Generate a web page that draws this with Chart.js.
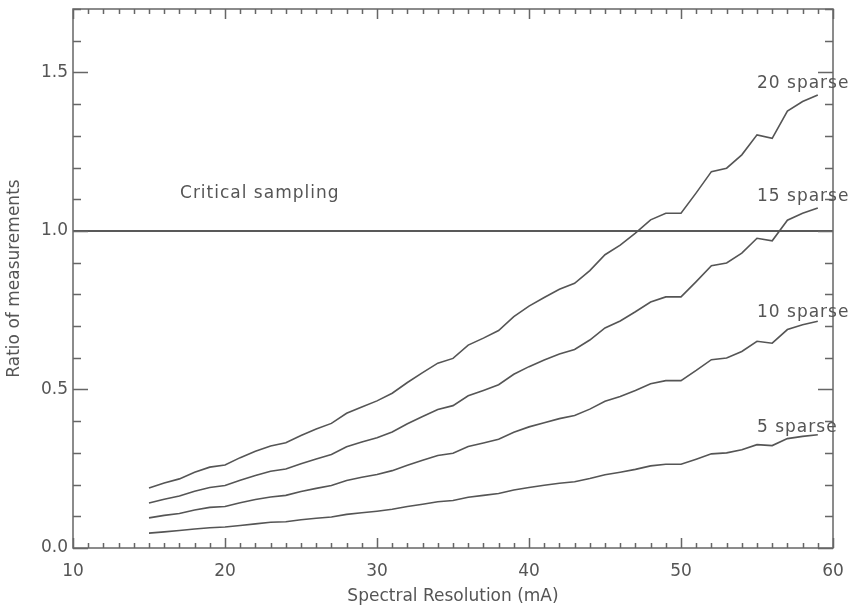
<!DOCTYPE html>
<html>
<head>
<meta charset="utf-8">
<script src="https://cdn.jsdelivr.net/npm/chart.js@4"></script>
<style>
  html, body { margin: 0; padding: 0; background: #fff; }
</style>
</head>
<body>
<canvas id="chart" width="853" height="608"></canvas>
<script>
// Spectral resolution (mA), one point per unit
const resolution = [15, 16, 17, 18, 19, 20, 21, 22, 23, 24, 25, 26, 27, 28, 29,
  30, 31, 32, 33, 34, 35, 36, 37, 38, 39, 40, 41, 42, 43, 44,
  45, 46, 47, 48, 49, 50, 51, 52, 53, 54, 55, 56, 57, 58, 59];

const sparse20 = [0.189, 0.205, 0.218, 0.239, 0.255, 0.262, 0.285, 0.305, 0.322, 0.332,
  0.355, 0.375, 0.393, 0.425, 0.445, 0.464, 0.488, 0.522, 0.553, 0.583,
  0.598, 0.640, 0.662, 0.686, 0.730, 0.763, 0.790, 0.816, 0.835, 0.875,
  0.925, 0.955, 0.993, 1.035, 1.056, 1.056, 1.120, 1.187, 1.198, 1.240,
  1.303, 1.292, 1.378, 1.408, 1.429];

const sparse15 = [0.142, 0.154, 0.164, 0.179, 0.191, 0.197, 0.214, 0.229, 0.242, 0.249,
  0.266, 0.281, 0.295, 0.319, 0.334, 0.348, 0.366, 0.392, 0.415, 0.437,
  0.449, 0.480, 0.497, 0.515, 0.548, 0.572, 0.593, 0.612, 0.626, 0.656,
  0.694, 0.716, 0.745, 0.776, 0.792, 0.792, 0.840, 0.890, 0.899, 0.930,
  0.977, 0.969, 1.034, 1.056, 1.072];

const sparse10 = [0.095, 0.103, 0.109, 0.120, 0.128, 0.131, 0.143, 0.153, 0.161, 0.166,
  0.178, 0.188, 0.197, 0.213, 0.223, 0.232, 0.244, 0.261, 0.277, 0.292,
  0.299, 0.320, 0.331, 0.343, 0.365, 0.382, 0.395, 0.408, 0.418, 0.438,
  0.463, 0.478, 0.497, 0.518, 0.528, 0.528, 0.560, 0.594, 0.599, 0.620,
  0.652, 0.646, 0.689, 0.704, 0.715];

const sparse5 = [0.047, 0.051, 0.055, 0.060, 0.064, 0.066, 0.071, 0.076, 0.081, 0.083,
  0.089, 0.094, 0.098, 0.106, 0.111, 0.116, 0.122, 0.131, 0.138, 0.146,
  0.150, 0.160, 0.166, 0.172, 0.183, 0.191, 0.198, 0.204, 0.209, 0.219,
  0.231, 0.239, 0.248, 0.259, 0.264, 0.264, 0.280, 0.297, 0.300, 0.310,
  0.326, 0.323, 0.345, 0.352, 0.357];

const seriesNames = ['20 sparse', '15 sparse', '10 sparse', '5 sparse'];
const criticalLevel = 1.0;
const criticalName = 'Critical sampling';

const lineColor = '#555';
const textColor = '#555';
const axisColor = '#666';
const fontFamily = '"DejaVu Sans", sans-serif';
const fontSize = 17;

const toPoints = (ys) => ys.map((v, i) => ({ x: resolution[i], y: v }));

// where each curve's name sits, in data units
const nameSpots = [
  { x: 55.0, y: 1.464 },
  { x: 55.0, y: 1.107 },
  { x: 55.0, y: 0.741 },
  { x: 55.0, y: 0.379 },
];

const frame = {
  id: 'frame',
  afterDraw(chart) {
    const { ctx, chartArea: a, scales: { x, y } } = chart;
    ctx.save();
    ctx.strokeStyle = axisColor;
    ctx.lineWidth = 1.5;
    ctx.strokeRect(a.left, a.top, a.right - a.left, a.bottom - a.top);

    ctx.beginPath();
    for (let v = x.min; v <= x.max; v += 1) {
      const px = Math.round(x.getPixelForValue(v)) + 0.5;
      const len = v % 10 === 0 ? 10 : 5;
      ctx.moveTo(px, a.bottom); ctx.lineTo(px, a.bottom - len);
      ctx.moveTo(px, a.top); ctx.lineTo(px, a.top + len);
    }
    for (let i = 0; i <= 17; i++) {
      const py = Math.round(y.getPixelForValue(i / 10)) + 0.5;
      const len = i % 5 === 0 ? 15 : 8;
      ctx.moveTo(a.left, py); ctx.lineTo(a.left + len, py);
      ctx.moveTo(a.right, py); ctx.lineTo(a.right - len, py);
    }
    ctx.stroke();

    ctx.fillStyle = textColor;
    ctx.font = `${fontSize}px ${fontFamily}`;
    ctx.textBaseline = 'middle';
    ctx.textAlign = 'left';
    ctx.letterSpacing = '1px';
    ctx.fillText(criticalName, x.getPixelForValue(17.04), y.getPixelForValue(1.117));
    seriesNames.forEach((name, i) => {
      ctx.fillText(name, x.getPixelForValue(nameSpots[i].x), y.getPixelForValue(nameSpots[i].y));
    });
    ctx.restore();
  },
};

const curves = [sparse20, sparse15, sparse10, sparse5].map((ys, i) => ({
  label: seriesNames[i],
  data: toPoints(ys),
  borderColor: lineColor,
  borderWidth: 1.6,
  pointRadius: 0,
  tension: 0,
  fill: false,
}));

curves.push({
  label: criticalName,
  data: [{ x: 10, y: criticalLevel }, { x: 60, y: criticalLevel }],
  borderColor: '#222',
  borderWidth: 1.5,
  pointRadius: 0,
  fill: false,
});

new Chart(document.getElementById('chart').getContext('2d'), {
  type: 'line',
  data: { datasets: curves },
  plugins: [frame],
  options: {
    responsive: false,
    animation: false,
    layout: { padding: { top: 9, right: 20, left: 0, bottom: 0 } },
    plugins: { legend: { display: false }, tooltip: { enabled: false } },
    scales: {
      x: {
        type: 'linear',
        min: 10,
        max: 60,
        afterFit: (s) => { s.height = 60; s.paddingLeft = 0; s.paddingRight = 0; },
        grid: { display: false, drawTicks: false },
        border: { display: false },
        ticks: {
          stepSize: 10,
          padding: 13,
          color: textColor,
          font: { family: fontFamily, size: fontSize },
          maxRotation: 0,
        },
        title: {
          display: true,
          text: 'Spectral Resolution (mA)',
          color: textColor,
          font: { family: fontFamily, size: fontSize },
          padding: { top: 0, bottom: 1 },
        },
      },
      y: {
        min: 0,
        max: 1.7,
        afterFit: (s) => { s.width = 73; s.paddingTop = 0; s.paddingBottom = 0; },
        afterBuildTicks: (s) => { s.ticks = s.ticks.filter(t => Math.abs(t.value * 2 - Math.round(t.value * 2)) < 1e-6); },
        grid: { display: false, drawTicks: false },
        border: { display: false },
        ticks: {
          stepSize: 0.5,
          padding: 5,
          color: textColor,
          font: { family: fontFamily, size: fontSize },
          callback: (v) => Number(v).toFixed(1),
        },
        title: {
          display: true,
          text: 'Ratio of measurements',
          color: textColor,
          font: { family: fontFamily, size: fontSize },
          padding: { top: 4, bottom: 4 },
        },
      },
    },
  },
});
</script>
</body>
</html>
